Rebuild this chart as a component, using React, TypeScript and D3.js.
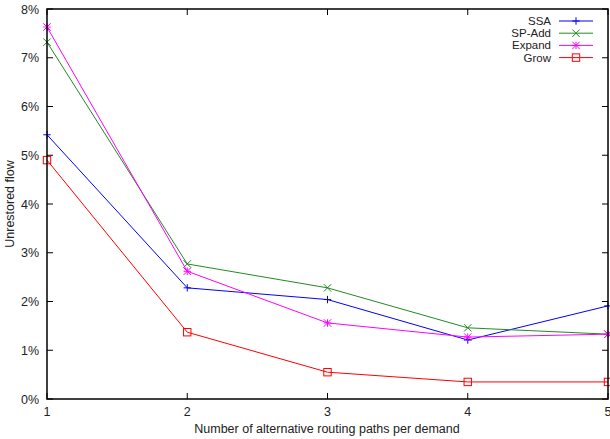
import React from "react";
import * as d3 from "d3";

const xValues = [1, 2, 3, 4, 5];
const yTicks = [0, 1, 2, 3, 4, 5, 6, 7, 8];
const seriesNames = ["SSA", "SP-Add", "Expand", "Grow"];
const seriesColors = ["#0000ff", "#228b22", "#ff00ff", "#ff0000"];
const ssa = [5.42, 2.28, 2.04, 1.21, 1.91];
const spAdd = [7.32, 2.77, 2.28, 1.46, 1.33];
const expand = [7.63, 2.62, 1.56, 1.27, 1.33];
const grow = [4.9, 1.37, 0.55, 0.35, 0.35];
const seriesValues = [ssa, spAdd, expand, grow];
const markers = ["plus", "cross", "star", "square"];

const W = 610, H = 439;
const left = 47, right = 608, top = 9, bottom = 399;

function Marker({ type, x, y, color }: { type: string; x: number; y: number; color: string }) {
  const s = 3.7;
  if (type === "plus")
    return <path d={`M${x - s},${y}H${x + s}M${x},${y - s}V${y + s}`} stroke={color} strokeWidth={1} fill="none" />;
  if (type === "cross")
    return <path d={`M${x - s},${y - s}L${x + s},${y + s}M${x - s},${y + s}L${x + s},${y - s}`} stroke={color} strokeWidth={1} fill="none" />;
  if (type === "star")
    return <path d={`M${x - s},${y}H${x + s}M${x},${y - s}V${y + s}M${x - s},${y - s}L${x + s},${y + s}M${x - s},${y + s}L${x + s},${y - s}`} stroke={color} strokeWidth={1} fill="none" />;
  return <rect x={x - s} y={y - s} width={2 * s} height={2 * s} stroke={color} strokeWidth={1} fill="none" />;
}

export default function App() {
  const x = d3.scaleLinear().domain([1, 5]).range([left, right]);
  const y = d3.scaleLinear().domain([0, 8]).range([bottom, top]);
  const line = d3.line<number>().x((_, i) => x(xValues[i])).y((d) => y(d));
  const font = "'Liberation Sans', Arial, Helvetica, sans-serif";
  const tl = 6;
  const legendY0 = 21, legendDy = 12.2;
  return (
    <svg width={W} height={H} style={{ position: "absolute", left: 0, top: 0, background: "#fff" }} fontFamily={font}>
      {yTicks.map((t) => (
        <g key={"y" + t}>
          <line x1={left} x2={left + tl} y1={y(t)} y2={y(t)} stroke="#000" />
          <line x1={right} x2={right - tl} y1={y(t)} y2={y(t)} stroke="#000" />
          <text x={39} y={y(t) + 4.5} textAnchor="end" fontSize={12.5} fill="#222">{t}%</text>
        </g>
      ))}
      {xValues.map((t) => (
        <g key={"x" + t}>
          <line x1={x(t)} x2={x(t)} y1={bottom} y2={bottom - tl} stroke="#000" />
          <line x1={x(t)} x2={x(t)} y1={top} y2={top + tl} stroke="#000" />
          <text x={x(t)} y={416} textAnchor="middle" fontSize={12.5} fill="#222">{t}</text>
        </g>
      ))}
      {seriesValues.map((vals, i) => (
        <g key={"s" + i}>
          <path d={line(vals) || ""} stroke={seriesColors[i]} strokeWidth={1} fill="none" />
          {vals.map((v, j) => (
            <Marker key={j} type={markers[i]} x={x(xValues[j])} y={y(v)} color={seriesColors[i]} />
          ))}
        </g>
      ))}
      {seriesNames.map((n, i) => {
        const ly = legendY0 + i * legendDy;
        return (
          <g key={"l" + i}>
            <text x={551} y={ly + 4} textAnchor="end" fontSize={11.5} fill="#222">{n}</text>
            <line x1={559} x2={593} y1={ly} y2={ly} stroke={seriesColors[i]} strokeWidth={1} />
            <Marker type={markers[i]} x={576} y={ly} color={seriesColors[i]} />
          </g>
        );
      })}
      <rect x={left} y={top} width={right - left} height={bottom - top} fill="none" stroke="#000" strokeWidth={1.5} />
      <text x={327} y={433} textAnchor="middle" fontSize={12.5} fill="#222">Number of alternative routing paths per demand</text>
      <text transform={`translate(14,${(top + bottom) / 2}) rotate(-90)`} textAnchor="middle" fontSize={12.5} fill="#222">Unrestored flow</text>
    </svg>
  );
}
